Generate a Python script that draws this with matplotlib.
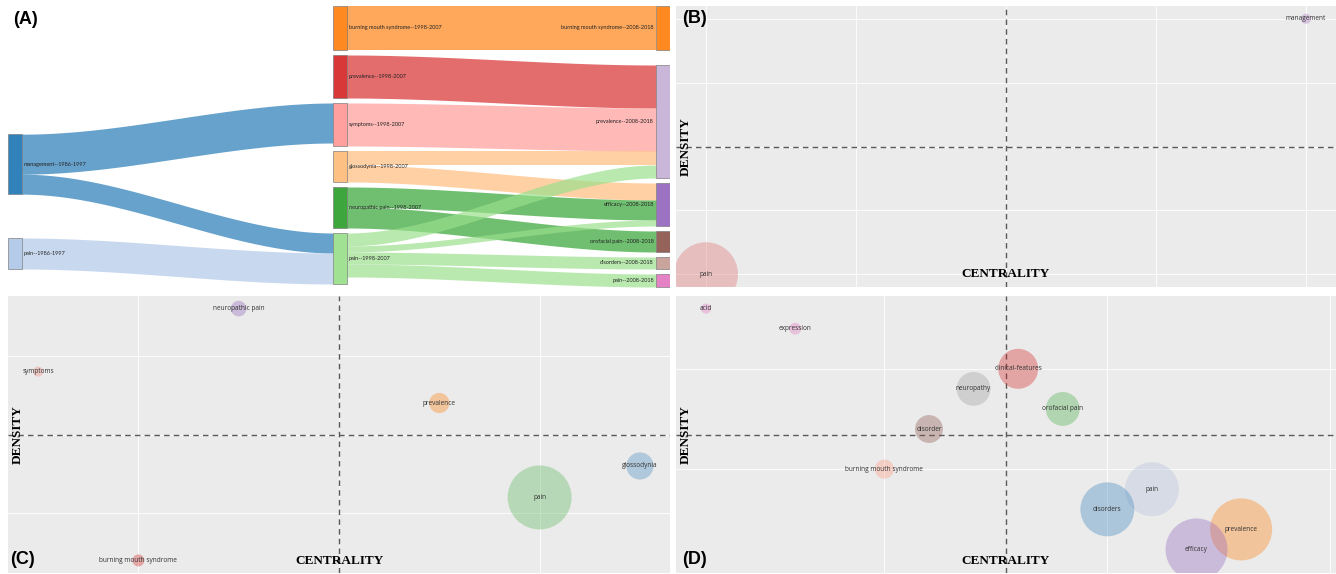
import numpy as np
import matplotlib.pyplot as plt
from matplotlib.patches import Rectangle

# ---------------- (A) thematic evolution (sankey) ----------------
node_names = ["management--1986-1997", "pain--1986-1997",
              "burning mouth syndrome--1998-2007", "prevalence--1998-2007",
              "symptoms--1998-2007", "glossodynia--1998-2007",
              "neuropathic pain--1998-2007", "pain--1998-2007",
              "burning mouth syndrome--2008-2018", "prevalence--2008-2018",
              "efficacy--2008-2018", "orofacial pain--2008-2018",
              "disorders--2008-2018", "pain--2008-2018"]
node_period = [0, 0, 1, 1, 1, 1, 1, 1, 2, 2, 2, 2, 2, 2]
node_colors = ["#1f77b4", "#aec7e8", "#ff7f0e", "#d62728", "#ff9896", "#ffbb78",
               "#2ca02c", "#98df8a", "#ff7f0e", "#c5b0d5", "#9467bd", "#8c564b",
               "#c49c94", "#e377c2"]
link_src = [0, 0, 1, 2, 3, 4, 5, 5, 6, 6, 7, 7, 7, 7]
link_tgt = [4, 7, 7, 8, 9, 9, 9, 10, 10, 11, 9, 10, 12, 13]
link_val = [40, 20, 31, 44, 43, 43, 14, 17, 20, 21, 13, 6, 12, 13]

# ---------------- (B)(C)(D) thematic maps ----------------
b_labels = ["pain", "management"]
b_centrality = [1, 2]
b_density = [1, 2]
b_freq = [100, 2.5]
b_colors = ["#e07070", "#b07cc6"]

c_labels = ["neuropathic pain", "symptoms", "prevalence", "glossodynia", "pain",
            "burning mouth syndrome"]
c_centrality = [3, 1, 5, 7, 6, 2]
c_density = [9, 7, 6, 4, 3, 1]
c_freq = [6, 2.5, 10, 18, 100, 3.5]
c_colors = ["#9467bd", "#f08a80", "#ff7f0e", "#4a8cc0", "#5cb85c", "#d62728"]

d_labels = ["acid", "expression", "clinical-features", "neuropathy", "orofacial pain",
            "disorder", "burning mouth syndrome", "pain", "disorders", "prevalence",
            "efficacy"]
d_centrality = [1, 3, 8, 7, 9, 6, 5, 11, 10, 13, 12]
d_density = [13, 12, 10, 9, 8, 7, 5, 4, 3, 2, 1]
d_freq = [2.5, 3.5, 39, 28, 28, 19, 9, 71, 71, 94, 94]
d_colors = ["#e377c2", "#e377c2", "#d62728", "#a0a0a0", "#4cb04c", "#8c564b",
            "#ff9a80", "#b4bfdc", "#3a85bd", "#ff7f0e", "#9467bd"]

W, H = 1336, 574
fig = plt.figure(figsize=(W / 100, H / 100), dpi=100)


def px_axes(x0, y0, x1, y1):
    return fig.add_axes([x0 / W, (H - y1) / H, (x1 - x0) / W, (y1 - y0) / H])


# ---- sankey ----
ax = px_axes(0, 0, 670, 290)
ax.set_xlim(0, 670)
ax.set_ylim(290, 0)
ax.axis("off")

col_x = [8, 333, 656]
node_w = 14
pad = 5
y_top, y_bot = 6, 287

n = len(node_names)
inflow = np.zeros(n)
outflow = np.zeros(n)
for s, t, v in zip(link_src, link_tgt, link_val):
    outflow[s] += v
    inflow[t] += v
height = np.maximum(inflow, outflow)
top = np.zeros(n)


def place(ids, desired):
    # keep the given node order, push down to avoid overlaps, then back up from the bottom
    y = y_top
    for i in ids:
        top[i] = max(desired[i], y)
        y = top[i] + height[i] + pad
    y = y_bot
    for i in reversed(ids):
        top[i] = min(top[i], y - height[i])
        y = top[i] - pad


mid = [i for i in range(n) if node_period[i] == 1]
place(mid, {i: 0 for i in mid})
centre = top + height / 2

right = [i for i in range(n) if node_period[i] == 2]
want = {}
for i in right:
    w = [(centre[s], v) for s, t, v in zip(link_src, link_tgt, link_val) if t == i]
    want[i] = sum(c * v for c, v in w) / sum(v for c, v in w) - height[i] / 2
place(right, want)

left = [i for i in range(n) if node_period[i] == 0]
want = {}
for i in left:
    w = [(centre[t], v) for s, t, v in zip(link_src, link_tgt, link_val) if s == i]
    want[i] = sum(c * v for c, v in w) / sum(v for c, v in w) - height[i] / 2 - 5
place(left, want)
centre = top + height / 2

# link offsets
src_y = {}
tgt_y = {}
for i in range(n):
    outs = sorted([k for k in range(len(link_val)) if link_src[k] == i],
                  key=lambda k: centre[link_tgt[k]])
    y = top[i]
    for k in outs:
        src_y[k] = y
        y += link_val[k]
    ins = sorted([k for k in range(len(link_val)) if link_tgt[k] == i],
                 key=lambda k: centre[link_src[k]])
    y = top[i]
    for k in ins:
        tgt_y[k] = y
        y += link_val[k]

for k, (s, t, v) in enumerate(zip(link_src, link_tgt, link_val)):
    x0 = col_x[node_period[s]] + node_w
    x1 = col_x[node_period[t]]
    xs = np.linspace(x0, x1, 200)
    u = (xs - x0) / (x1 - x0)
    f = 3 * u ** 2 - 2 * u ** 3
    yt = src_y[k] + (tgt_y[k] - src_y[k]) * f
    ax.fill_between(xs, yt, yt + v, color=node_colors[s], alpha=0.68, lw=0)

for i in range(n):
    x = col_x[node_period[i]]
    ax.add_patch(Rectangle((x, top[i]), node_w, height[i], facecolor=node_colors[i],
                           alpha=0.92, edgecolor="#777777", lw=0.5))
    if node_period[i] == 2:
        ax.text(x - 2, centre[i], node_names[i], ha="right", va="center",
                fontsize=4, family="Lato", color="#222222")
    else:
        ax.text(x + node_w + 2, centre[i], node_names[i], ha="left", va="center",
                fontsize=4, family="Lato", color="#222222")

ax.text(13, 20, "(A)", fontsize=13, fontweight="bold", family="Liberation Sans",
        va="center", ha="left")


# ---- thematic maps ----
def thematic(axm, labels, cen, den, freq, colors, xbreaks, ybreaks, tag, tag_pos):
    cen = np.array(cen, float)
    den = np.array(den, float)
    mx, my = cen.mean(), den.mean()
    rx = np.abs(cen - mx).max() * 1.1
    ry = np.abs(den - my).max() * 1.1
    axm.set_xlim(mx - rx, mx + rx)
    axm.set_ylim(my - ry, my + ry)
    axm.set_facecolor("#ebebeb")
    for s in axm.spines.values():
        s.set_visible(False)
    axm.set_xticks(xbreaks)
    axm.set_yticks(ybreaks)
    axm.tick_params(length=0, labelbottom=False, labelleft=False)
    axm.grid(True, color="white", lw=0.6)
    axm.set_axisbelow(True)
    axm.axvline(mx, color="#5a5a5a", lw=1.0, ls=(0, (4, 3)))
    axm.axhline(my, color="#5a5a5a", lw=1.0, ls=(0, (4, 3)))
    r = 3.2 * np.sqrt(np.array(freq))
    axm.scatter(cen, den, s=(2 * r * 0.72) ** 2, c=colors, alpha=0.36,
                edgecolors="none", zorder=3)
    for lab, x, y in zip(labels, cen, den):
        axm.text(x, y, lab, ha="center", va="center", fontsize=4.7,
                 family="Open Sans", color="#333333", zorder=4)
    axm.text(0.015, 0.5, "DENSITY", rotation=90, transform=axm.transAxes,
             ha="center", va="center", fontsize=9.5, fontweight="bold",
             family="Liberation Serif")
    axm.text(0.5, 0.045, "CENTRALITY", transform=axm.transAxes,
             ha="center", va="center", fontsize=9.5, fontweight="bold",
             family="Liberation Serif")
    axm.text(tag_pos[0], tag_pos[1], tag, transform=axm.transAxes, ha="left",
             va="center", fontsize=13, fontweight="bold", family="Liberation Sans")


axb = px_axes(676, 6, 1336, 287)
thematic(axb, b_labels, b_centrality, b_density, b_freq, b_colors,
         [1, 1.25, 1.5, 1.75, 2], [1, 1.25, 1.5, 1.75, 2], "(B)", (0.01, 0.955))

axc = px_axes(8, 296, 670, 573)
thematic(axc, c_labels, c_centrality, c_density, c_freq, c_colors,
         [2, 4, 6], [2.5, 5, 7.5], "(C)", (0.003, 0.05))

axd = px_axes(676, 296, 1336, 573)
thematic(axd, d_labels, d_centrality, d_density, d_freq, d_colors,
         [5, 10, 15], [5, 10], "(D)", (0.01, 0.05))

plt.savefig("out.png", dpi=100)
